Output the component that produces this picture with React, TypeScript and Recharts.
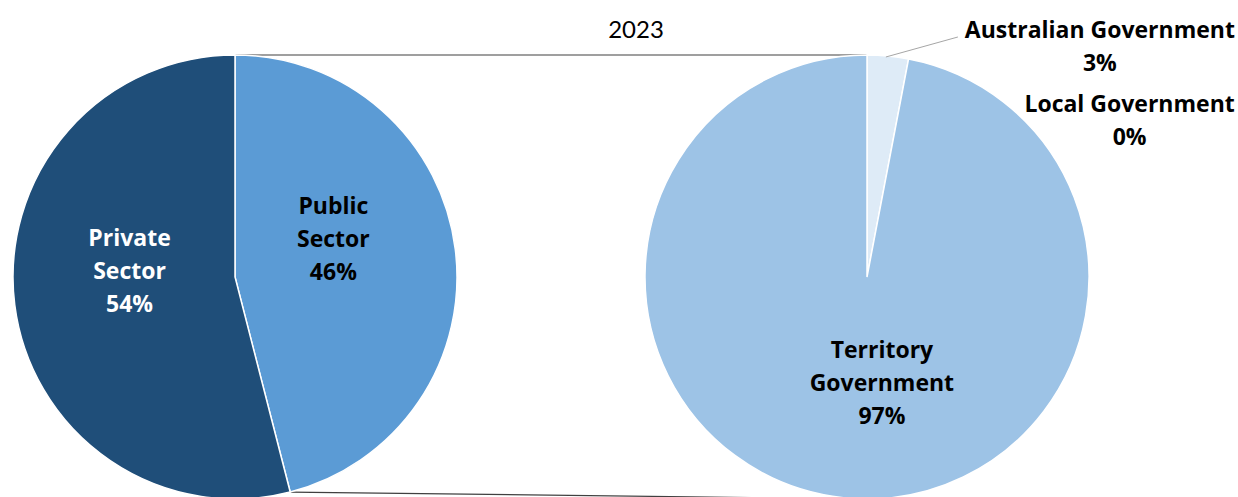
import React from 'react';
import { PieChart, Pie, Cell, Customized } from 'recharts';

// left pie: sector split
const sectorNames = ['Public Sector', 'Private Sector'];
const sectorShares = [46, 54];
const sectorColors = ['#5B9BD5', '#1F4E79'];

// right pie: public sector split
const govNames = ['Australian Government', 'Local Government', 'Territory Government'];
const govShares = [3, 0, 97];
const govColors = ['#DEEBF7', '#DEEBF7', '#9DC3E6'];

const title = '2023';

const sectorData = sectorNames.map((name, i) => ({ name, value: sectorShares[i] }));
const govData = govNames.map((name, i) => ({ name, value: govShares[i] }));

const W = 1238;
const H = 497;
const CY = 277;
const R = 222;
const LEFT_CX = 235;
const RIGHT_CX = 867;
const LABEL_FONT = '"Open Sans", Lato, sans-serif';
const TITLE_FONT = 'Lato, "Open Sans", sans-serif';
const RAD = Math.PI / 180;

type Placement =
  | { kind: 'inside'; rFrac: number; dAngle: number; color: string }
  | { kind: 'outside'; dx: number; dy: number; leader?: [number, number] };

const placement: Record<string, Placement> = {
  'Public Sector': { kind: 'inside', rFrac: 0.477, dAngle: 14.5, color: '#000' },
  'Private Sector': { kind: 'inside', rFrac: 0.476, dAngle: -11, color: '#fff' },
  'Territory Government': { kind: 'inside', rFrac: 0.477, dAngle: 13.5, color: '#000' },
  'Australian Government': { kind: 'outside', dx: 212, dy: -10, leader: [70, -19] },
  'Local Government': { kind: 'outside', dx: 221, dy: 61 },
};

const LINE_H = 33;

const Lines = ({ x, y, lines, color }: { x: number; y: number; lines: string[]; color: string }) => {
  const top = y - ((lines.length - 1) * LINE_H) / 2;
  return (
    <text x={x} y={top} textAnchor="middle" dominantBaseline="central" fill={color}
      fontFamily={LABEL_FONT} fontWeight="bold" fontSize={23}>
      {lines.map((l, i) => (
        <tspan key={i} x={x} y={top + i * LINE_H}>{l}</tspan>
      ))}
    </text>
  );
};

const renderLabel = (props: any) => {
  const { cx, cy, midAngle, outerRadius, percent, name } = props;
  const p = placement[name];
  if (!p) return null;
  const pct = `${Math.round(percent * 100)}%`;
  if (p.kind === 'inside') {
    const a = (midAngle + p.dAngle) * RAD;
    const x = cx + outerRadius * p.rFrac * Math.cos(a);
    const y = cy - outerRadius * p.rFrac * Math.sin(a);
    return <Lines x={x} y={y} lines={[...name.split(' '), pct]} color={p.color} />;
  }
  const a = midAngle * RAD;
  const ex = cx + outerRadius * Math.cos(a);
  const ey = cy - outerRadius * Math.sin(a);
  return (
    <g>
      {p.leader && (
        <line x1={ex - 2} y1={ey + 1} x2={ex + p.leader[0]} y2={ey + p.leader[1]} stroke="#A6A6A6" strokeWidth={1} />
      )}
      <Lines x={ex + p.dx} y={ey + p.dy} lines={[name, pct]} color="#000" />
    </g>
  );
};

// connector lines from the public slice of the left pie to the right pie
const Connectors = () => {
  const total = sectorShares.reduce((s, v) => s + v, 0);
  const endAngle = (90 - (sectorShares[0] / total) * 360) * RAD;
  const bx = LEFT_CX + R * Math.cos(endAngle);
  const by = CY - R * Math.sin(endAngle);
  return (
    <g>
      <line x1={LEFT_CX} y1={CY - R} x2={RIGHT_CX} y2={CY - R} stroke="#404040" strokeWidth={1.2} />
      <line x1={bx} y1={by} x2={RIGHT_CX} y2={CY + R} stroke="#404040" strokeWidth={1.2} />
      <text x={636} y={28} textAnchor="middle" dominantBaseline="central" fontFamily={TITLE_FONT}
        fontSize={24} fill="#000">{title}</text>
    </g>
  );
};

export default function App() {
  return (
    <div style={{ position: 'absolute', left: 0, top: 0, width: W, height: H, background: '#fff' }}>
      <PieChart width={W} height={H} margin={{ top: 0, right: 0, bottom: 0, left: 0 }}>
        <Pie data={sectorData} dataKey="value" nameKey="name" cx={LEFT_CX} cy={CY} outerRadius={R}
          startAngle={90} endAngle={-270} stroke="#fff" strokeWidth={1.5}
          isAnimationActive={false} label={renderLabel} labelLine={false}>
          {sectorData.map((d, i) => <Cell key={d.name} fill={sectorColors[i]} />)}
        </Pie>
        <Pie data={govData} dataKey="value" nameKey="name" cx={RIGHT_CX} cy={CY} outerRadius={R}
          startAngle={90} endAngle={-270} stroke="#fff" strokeWidth={1.5}
          isAnimationActive={false} label={renderLabel} labelLine={false}>
          {govData.map((d, i) => <Cell key={d.name} fill={govColors[i]} />)}
        </Pie>
        <Customized component={Connectors} />
      </PieChart>
    </div>
  );
}
